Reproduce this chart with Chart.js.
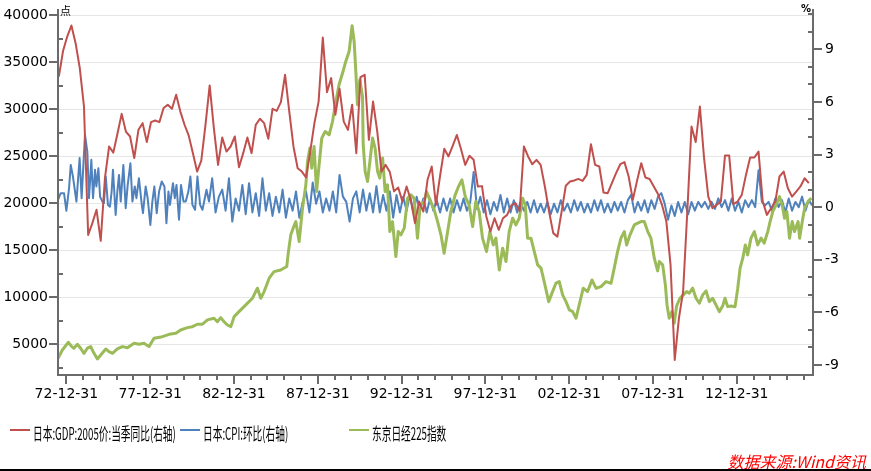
<!DOCTYPE html>
<html>
<head>
<meta charset="utf-8">
<script src="https://cdn.jsdelivr.net/npm/chart.js@4.4.0/dist/chart.umd.min.js"></script>
<style>
  body { margin: 0; background: #fff; }
  #wrap { position: relative; width: 871px; height: 471px; overflow: hidden; background: #fff; }
  #chart { position: absolute; left: 0; top: 0; }
  .unit { position: absolute; color: #000; line-height: 1; }
  .legend-item { position: absolute; top: 420px; height: 20px; white-space: nowrap; }
  .legend-item i { position: absolute; left: 0; top: 9px; width: 20px; height: 2px; }
  .legend-item span { position: absolute; left: 23px; top: 0; line-height: 20px; color: #000;
    font: 17px 'Noto Sans CJK SC', sans-serif; transform: scaleX(0.57); transform-origin: 0 50%; }
  #source { position: absolute; right: 5px; top: 449px; color: #f00; line-height: 1;
    font: italic 16px 'Noto Sans CJK SC', sans-serif; }
  #bottomline { position: absolute; left: 0; right: 0; top: 469px; height: 2px; background: #000; }
</style>
</head>
<body>
<div id="wrap">
  <canvas id="chart" width="871" height="471"></canvas>
  <div class="unit" style="left:60px;top:2px;font:11px 'Noto Sans CJK SC'">点</div>
  <div class="unit" style="left:801px;top:3px;font:bold 10px 'DejaVu Sans'">%</div>
  <div id="legend"></div>
  <div id="source">数据来源:Wind资讯</div>
  <div id="bottomline"></div>
</div>
<script>
// series names / colours (legend order)
const seriesNames = ['日本:GDP:2005价:当季同比(右轴)', '日本:CPI:环比(右轴)', '东京日经225指数'];
const seriesColors = ['#C0504D', '#4F81BD', '#9BBB59'];
const legendColumns = [10, 180, 349];

// x axis: decimal years, labels at year ends
const xTickYears = [1973, 1978, 1983, 1988, 1993, 1998, 2003, 2008, 2013];
const xTickLabels = ['72-12-31', '77-12-31', '82-12-31', '87-12-31', '92-12-31', '97-12-31', '02-12-31', '07-12-31', '12-12-31'];
const leftTicks = [5000, 10000, 15000, 20000, 25000, 30000, 35000, 40000];
const rightTicks = [-9, -6, -3, 0, 3, 6, 9];

// GDP yoy, quarterly
const gdpStart = 1972.55;
const gdpValues = [
  7.45, 8.9, 9.73, 10.36, 9.35, 7.93, 5.74, -1.58, -0.91, -0.15,
  -1.92, 1.65, 3.46, 3.11, 4.2, 5.32, 4.31, 4.03, 2.80, 4.41,
  4.79, 3.71, 4.85, 4.94, 4.85, 5.65, 5.84, 5.61, 6.41, 5.45,
  4.7, 4.08, 3.08, 2.03, 2.66, 4.69, 6.94, 4.51, 2.41, 3.97,
  3.17, 3.46, 4.03, 2.28, 3.08, 3.97, 3.08, 4.69, 5.04, 4.79,
  3.90, 5.61, 5.49, 5.99, 7.55, 5.45, 3.46, 2.22, 2.03, 1.69,
  3.17, 4.79, 6.02, 9.67, 6.56, 7.36, 5.27, 6.75, 4.88, 4.41,
  5.84, 3.08, 7.42, 7.55, 3.84, 6.02, 4.31, 2.03, 2.41, 2.0,
  0.9, 1.12, 0.32, 1.18, 0.42, -0.91, 0.32, -0.25, 1.56, 2.32,
  0.13, 1.8, 3.33, 2.89, 3.5, 4.12, 3.3, 2.41, 2.93, 2.70,
  1.18, 1.2, -0.5, -1.39, -0.63, -1.29, -0.63, -0.44, 0.1, 0.23,
  -0.21, 3.46, 2.89, 2.45, 2.70, 2.41, 1.18, -0.25, -1.48, -1.68,
  -0.25, 1.22, 1.46, 1.52, 1.61, 1.5, 1.84, 3.59, 2.41, 2.32,
  0.83, 0.80, 1.37, 1.94, 2.45, 2.57, 1.75, 0.42, 1.50, 2.51,
  1.69, 1.61, 1.18, 0.75, 0.1, -0.82, -3.29, -8.71, -6.33, -4.81,
  -0.25, 4.60, 3.71, 5.74, 2.80, 0.60, -0.06, 0.13, 0.32, 2.94,
  2.94, 0.17, 0.32, 0.70, 1.84, 2.83, 2.83, 3.17, 0.32, -0.44,
  -0.06, 0.32, 1.75, 2.03, 1.08, 0.60, 0.89, 1.18, 1.65, 1.37
];

// CPI mom: early years read point by point, later years on a 0.2-year grid
const cpiEarly = [
  [1972.46, 0.32], [1972.66, 0.80], [1972.86, 0.80], [1973.00, -0.21], [1973.16, 1.08], [1973.26, 2.41],
  [1973.39, 1.75], [1973.60, 0.32], [1973.79, 2.80], [1973.91, 0.51], [1974.11, 4.12], [1974.25, 3.17],
  [1974.35, 0.51], [1974.49, 2.70], [1974.59, 0.51], [1974.71, 2.13], [1974.79, 1.18], [1974.91, 2.22],
  [1975.01, 0.60], [1975.15, 0.32], [1975.24, 0.23], [1975.35, 1.75], [1975.48, 0.13], [1975.60, 0.03],
  [1975.70, 0.89], [1975.78, 2.13], [1975.94, -0.44], [1976.04, 0.89], [1976.14, 1.84], [1976.24, 0.32],
  [1976.40, 2.41], [1976.54, -0.06], [1976.66, 1.27], [1976.82, 2.51], [1976.94, 0.32], [1977.08, 1.18],
  [1977.18, 0.51], [1977.33, 1.65], [1977.50, 0.13], [1977.57, -0.34], [1977.73, 1.18], [1977.85, 0.51],
  [1978.01, -1.01], [1978.13, 0.32], [1978.25, 1.18], [1978.39, -0.34], [1978.53, 0.89], [1978.69, 1.46],
  [1978.85, 1.18], [1978.97, -0.91], [1979.09, 0.89], [1979.18, 0.13], [1979.36, 1.37], [1979.47, 0.51],
  [1979.57, 1.27], [1979.72, -0.72], [1979.84, 1.27], [1979.99, 0.32], [1980.12, 0.32], [1980.28, 0.89],
  [1980.40, 1.75], [1980.52, 0.13], [1980.68, -0.15], [1980.82, 1.75], [1980.98, 0.13], [1981.12, -0.15],
  [1981.26, 0.51], [1981.36, 0.99], [1981.51, 0.32]
];
const cpiLaterStart = 1981.7;
const cpiLater = [
  1.65, -0.3, 0.6, 1.0, -0.2, 1.65, -0.82, 0.5, -0.2, 1.27,
  -0.4, 1.37, -0.3, 0.8, -0.5, 1.65, -0.2, 0.8, -0.5, 0.6,
  -0.3, 1.0, -0.6, 0.5, -0.2, 0.9, -0.6, 0.3, 0.9, -0.3,
  1.4, 0.2, 0.9, -0.3, 0.5, -0.2, 0.9, -0.3, 1.84, 0.6,
  0.3, -0.82, 0.5, 0.9, -0.3, 1.0, -0.2, 0.8, -0.3, 1.2,
  -0.3, 0.7, -0.2, 0.9, -0.6, 0.7, -0.3, 0.6, -0.2, 0.7,
  -0.3, 0.6, -0.2, 0.5, -0.3, 0.5, -0.2, 0.4, -0.3, 0.5,
  -0.2, 0.5, -0.3, 0.4, -0.2, 0.5, -0.2, 0.3, 2.0, -0.1,
  0.6, -0.3, 0.4, -0.4, 0.3, -0.2, 0.7, -0.3, 0.5, -0.3,
  0.4, -0.3, 0.3, -0.2, 0.3, -0.3, 0.4, -0.3, 0.2, -0.3,
  0.3, -0.4, 0.2, -0.3, 0.4, -0.2, 0.2, -0.3, 0.4, -0.2,
  0.3, -0.3, 0.2, -0.3, 0.4, -0.2, 0.4, -0.3, 0.2, -0.3,
  0.3, -0.2, 0.3, -0.3, 0.4, 0.7, -0.3, 0.3, -0.2, 0.4,
  -0.3, 0.4, -0.1, 0.6, 0.8, 0.2, -0.72, 0.1, -0.5, 0.3,
  -0.3, 0.3, -0.4, 0.3, -0.2, 0.3, 0.0, 0.3, -0.1, 0.3,
  -0.1, 0.5, 0.0, 0.4, -0.2, 0.5, -0.2, 0.3, -0.3, 0.4,
  0.0, 0.4, 0.0, 2.1, 0.3, 0.1, 0.3, -0.2, 0.5, 0.0,
  0.4, -0.3, 0.5, -0.2, 0.3, 0.0, 0.6, -0.2, 0.4, 0.1
];

// Nikkei 225, [year, index]
const nikkeiPoints = [
  [1972.5, 3510], [1972.76, 4390], [1973.12, 5210], [1973.32, 4750], [1973.45, 4580], [1973.66, 5000],
  [1973.85, 4580], [1974.05, 4040], [1974.25, 4580], [1974.45, 4750], [1974.65, 4040], [1974.85, 3440],
  [1975.05, 3860], [1975.35, 4500], [1975.54, 4210], [1975.75, 4040], [1976.04, 4500], [1976.34, 4750],
  [1976.64, 4640], [1977.04, 5110], [1977.33, 5000], [1977.63, 5110], [1977.93, 4750], [1978.23, 5640],
  [1978.73, 5810], [1979.13, 6060], [1979.53, 6170], [1979.82, 6520], [1980.22, 6770], [1980.52, 6870],
  [1980.82, 7130], [1981.12, 7130], [1981.42, 7590], [1981.81, 7770], [1982.01, 7400], [1982.21, 7830],
  [1982.41, 7400], [1982.61, 7050], [1982.81, 6870], [1983.01, 7940], [1983.30, 8470], [1983.60, 9000],
  [1983.90, 9530], [1984.10, 9890], [1984.40, 10960], [1984.60, 9890], [1984.80, 10600], [1985.10, 12020],
  [1985.39, 12720], [1985.79, 12900], [1986.15, 13260], [1986.25, 14850], [1986.39, 16630], [1986.53, 17340],
  [1986.69, 18040], [1986.89, 15920], [1987.09, 19470], [1987.29, 21950], [1987.39, 24430], [1987.53, 25850],
  [1987.64, 23720], [1987.78, 26020], [1987.93, 21230], [1988.08, 24070], [1988.24, 26920], [1988.44, 27620],
  [1988.68, 27270], [1988.88, 28680], [1989.08, 30810], [1989.27, 32590], [1989.48, 33830], [1989.67, 35060],
  [1989.87, 36130], [1990.05, 38860], [1990.17, 37190], [1990.27, 34000], [1990.37, 30460], [1990.51, 33120],
  [1990.67, 31340], [1990.71, 26210], [1990.83, 23360], [1990.97, 22300], [1991.11, 24430], [1991.27, 26920],
  [1991.42, 25850], [1991.57, 23360], [1991.70, 22660], [1991.87, 24790], [1992.02, 21230], [1992.16, 21950],
  [1992.30, 16980], [1992.46, 18040], [1992.66, 14320], [1992.80, 16980], [1992.96, 16630], [1993.16, 17340],
  [1993.36, 20530], [1993.56, 20880], [1993.75, 20530], [1993.95, 16280], [1994.11, 19820], [1994.35, 20170],
  [1994.49, 21230], [1994.69, 20350], [1994.95, 19290], [1995.15, 18040], [1995.35, 16630], [1995.54, 14680],
  [1995.75, 16980], [1995.94, 19110], [1996.20, 20880], [1996.40, 21770], [1996.60, 22480], [1996.80, 20700],
  [1997.03, 19820], [1997.24, 17510], [1997.43, 20170], [1997.63, 19110], [1997.83, 16280], [1998.07, 14850],
  [1998.27, 16980], [1998.47, 15560], [1998.63, 16280], [1998.83, 12900], [1999.03, 15210], [1999.23, 13790],
  [1999.42, 16980], [1999.63, 18400], [1999.82, 17690], [2000.02, 18400], [2000.22, 20530], [2000.38, 19820],
  [2000.52, 16280], [2000.72, 16280], [2000.92, 14850], [2001.12, 13440], [2001.32, 13090], [2001.51, 11660],
  [2001.78, 9530], [2002.01, 10600], [2002.21, 11490], [2002.41, 11660], [2002.61, 10250], [2002.81, 9530],
  [2003.01, 8650], [2003.21, 8470], [2003.41, 7770], [2003.60, 9180], [2003.84, 10960], [2004.10, 10600],
  [2004.36, 11840], [2004.60, 10960], [2004.90, 11130], [2005.20, 11660], [2005.50, 11490], [2005.69, 13090],
  [2005.89, 14850], [2006.09, 16280], [2006.29, 16980], [2006.43, 15560], [2006.63, 16630], [2006.89, 17690],
  [2007.09, 17870], [2007.29, 18040], [2007.48, 18040], [2007.69, 16980], [2007.88, 16280], [2008.08, 14150],
  [2008.28, 12800], [2008.38, 13790], [2008.58, 13440], [2008.74, 11310], [2008.84, 9180], [2008.97, 7770],
  [2009.13, 8470], [2009.27, 7230], [2009.41, 9060], [2009.61, 9890], [2009.81, 10250], [2010.01, 10600],
  [2010.17, 10430], [2010.37, 10960], [2010.57, 9890], [2010.77, 9360], [2010.97, 10250], [2011.17, 10670],
  [2011.36, 9530], [2011.56, 9890], [2011.76, 9180], [2011.96, 8470], [2012.16, 9060], [2012.30, 9890],
  [2012.46, 9000], [2012.66, 9060], [2012.90, 9000], [2013.06, 10960], [2013.20, 13090], [2013.36, 14150],
  [2013.51, 15560], [2013.65, 14500], [2013.85, 16280], [2014.05, 16980], [2014.25, 15560], [2014.45, 16280],
  [2014.64, 15750], [2014.85, 16980], [2014.99, 18040], [2015.15, 19110], [2015.35, 19820], [2015.55, 20700],
  [2015.71, 19820], [2015.85, 18400], [2015.99, 19110], [2016.15, 16280], [2016.31, 18040], [2016.45, 16980],
  [2016.66, 18040], [2016.75, 16280], [2016.91, 18040], [2017.05, 19470], [2017.25, 20170], [2017.45, 20530]
];

const gdpData = gdpValues.map((v, i) => ({ x: gdpStart + i * 0.25, y: v }));
const cpiData = cpiEarly.map(([x, y]) => ({ x, y }))
  .concat(cpiLater.map((v, i) => ({ x: cpiLaterStart + i * 0.2, y: v })));
const nikkeiData = nikkeiPoints.map(([x, y]) => ({ x, y }));

const tickFont = { family: 'DejaVu Sans', size: 14 };

// axis lines plus major/minor tick marks
const axisDecor = {
  id: 'axisDecor',
  afterDraw(chart) {
    const { ctx, chartArea: a, scales } = chart;
    const seg = (x1, y1, x2, y2) => { ctx.moveTo(x1, y1); ctx.lineTo(x2, y2); };
    ctx.save();
    ctx.strokeStyle = '#6b6b6b';
    ctx.lineWidth = 2;
    ctx.beginPath();
    seg(a.left, a.top, a.left, a.bottom + 1);
    seg(a.right, a.top, a.right, a.bottom + 1);
    seg(a.left - 1, a.bottom, a.right + 1, a.bottom);
    for (let v = 2500; v <= 40000; v += 2500) {
      const y = Math.round(scales.y.getPixelForValue(v));
      if (v % 5000 === 0) seg(a.left - 9, y, a.left, y);
      else seg(a.left, y, a.left + 5, y);
    }
    for (let v = -9; v <= 11; v++) {
      const y = Math.round(scales.y1.getPixelForValue(v));
      if (v % 3 === 0) seg(a.right, y, a.right + 9, y);
      else seg(a.right - 5, y, a.right, y);
    }
    for (let yr = 1973; yr <= 2017; yr++) {
      const x = Math.round(scales.x.getPixelForValue(yr));
      seg(x, a.bottom, x, a.bottom + ((yr - 1973) % 5 === 0 ? 9 : 5));
    }
    ctx.stroke();
    ctx.restore();
  }
};

new Chart(document.getElementById('chart'), {
  type: 'line',
  data: {
    datasets: [
      { label: seriesNames[0], data: gdpData, yAxisID: 'y1', borderColor: seriesColors[0], borderWidth: 2, order: 1 },
      { label: seriesNames[1], data: cpiData, yAxisID: 'y1', borderColor: seriesColors[1], borderWidth: 2, order: 3 },
      { label: seriesNames[2], data: nikkeiData, yAxisID: 'y', borderColor: seriesColors[2], borderWidth: 3, order: 2 }
    ]
  },
  options: {
    responsive: false,
    animation: false,
    devicePixelRatio: 1,
    layout: { padding: { top: 9, bottom: 66, left: 0, right: 0 } },
    elements: { point: { radius: 0 }, line: { tension: 0, borderJoinStyle: 'round' } },
    plugins: { legend: { display: false }, tooltip: { enabled: false } },
    scales: {
      x: {
        type: 'linear', min: 1972.5, max: 2017.55,
        afterBuildTicks: s => { s.ticks = xTickYears.map(v => ({ value: v })); },
        afterFit: s => { s.height = 30; s.paddingLeft = 0; s.paddingRight = 0; },
        grid: { display: false, drawTicks: false },
        border: { display: false },
        ticks: {
          autoSkip: false, maxRotation: 0, padding: 11, color: '#000', font: tickFont,
          callback: v => xTickLabels[xTickYears.indexOf(v)] || ''
        }
      },
      y: {
        position: 'left', min: 1734, max: 40638,
        afterBuildTicks: s => { s.ticks = leftTicks.map(v => ({ value: v })); },
        afterFit: s => { s.width = 58; s.paddingTop = 0; s.paddingBottom = 0; },
        grid: { color: '#e6e6e6', lineWidth: 1, drawTicks: false },
        border: { display: false },
        ticks: { padding: 10, color: '#000', font: tickFont, callback: v => String(v) }
      },
      y1: {
        position: 'right', min: -9.57, max: 11.3,
        afterBuildTicks: s => { s.ticks = rightTicks.map(v => ({ value: v })); },
        afterFit: s => { s.width = 58; s.paddingTop = 0; s.paddingBottom = 0; },
        grid: { display: false, drawTicks: false },
        border: { display: false },
        ticks: { padding: 12, color: '#000', font: tickFont, callback: v => String(v) }
      }
    }
  },
  plugins: [axisDecor]
});

// legend in fixed columns, like the original
const legend = document.getElementById('legend');
seriesNames.forEach((name, i) => {
  const item = document.createElement('div');
  item.className = 'legend-item';
  item.style.left = legendColumns[i] + 'px';
  item.innerHTML = '<i style="background:' + seriesColors[i] + '"></i><span>' + name + '</span>';
  legend.appendChild(item);
});
</script>
</body>
</html>
